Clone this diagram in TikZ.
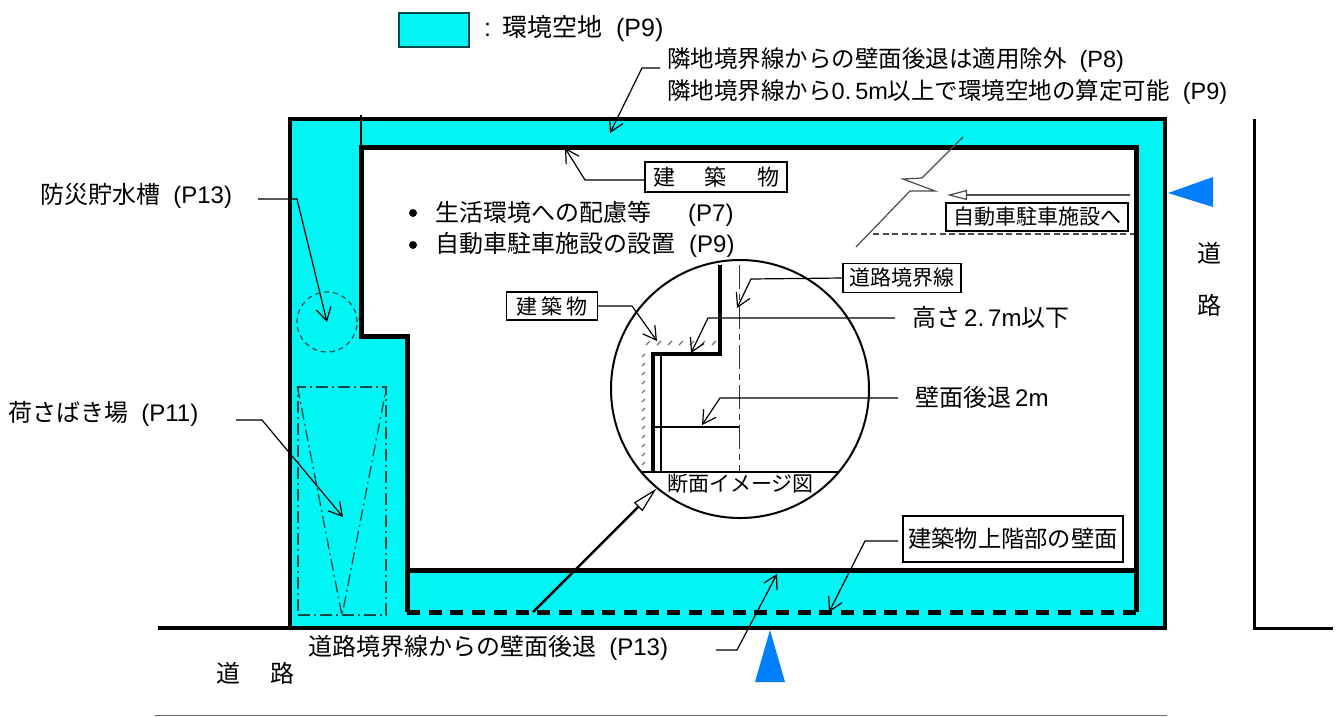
\documentclass[tikz,border=0pt]{standalone}
\usepackage{fontspec}
\setmainfont{Noto Sans CJK JP}
\newfontfamily\latf{Liberation Sans}
\newcommand{\lt}[1]{{\latf #1}}
\newcommand{\pg}[1]{\hspace{.55em}\lt{(#1)}}
\usetikzlibrary{arrows.meta}
\definecolor{akuchi}{HTML}{00F5F5}
\definecolor{doro}{HTML}{0080FF}
\tikzset{
	lbl/.style={anchor=west,inner sep=0pt,font=\fontsize{#1}{#1}\selectfont},
	lbl/.default=24,
	boxlbl/.style={draw=black,fill=white,line width=1.3pt,inner sep=0pt,font=\fontsize{#1}{#1}\selectfont},
	boxlbl/.default=21,
	leader/.style={black,line width=1.2pt,-{Straight Barb[length=13pt,width=15pt,line width=1.2pt]}},
	thickwall/.style={black,line width=5pt},
	dockline/.style={draw=black!70!akuchi,line width=1.3pt,dash pattern=on 12pt off 4pt on 2pt off 4pt},
	parkline/.style={black!70,line width=1.2pt}
}
\begin{document}
\begin{tikzpicture}[x=1pt,y=-1pt]
	\useasboundingbox (0,0) rectangle (1341,716);
	% site and building
	\fill [akuchi] (290,119) rectangle (1165,628);
	\fill [white] (361,147) -- (1136,147) -- (1136,570) -- (407,570) -- (407,336) -- (361,336) -- cycle;
	\draw [black,line width=1.5pt] (361,115) -- (361,147);
	\draw [black,line width=4pt] (1165,628) -- (1165,119) -- (290,119) -- (290,628);
	\draw [black,line width=3.5pt] (158,628) -- (1167,628);
	\draw [thickwall,line join=miter] (407,612) -- (407,336) -- (361,336) -- (361,147) -- (1136,147) -- (1136,612);
	\draw [thickwall] (407,570) -- (1136,570);
	\draw [thickwall,dash pattern=on 13pt off 8.7pt] (407,612) -- (1136,612);
	% road on the right
	\draw [black,line width=3pt] (1254,119) -- (1254,628) -- (1333,628);
	\draw [black!60,line width=1pt] (155,715) -- (1167,715);
	% legend
	\node [draw=black!70!akuchi,fill=akuchi,line width=1.3pt,minimum width=70pt,minimum height=34pt,inner sep=0pt] (legend) at (434,30) {};
	\node [lbl=25] (legendtxt) at (484,29) {\lt{:}\hspace{.45em}環境空地\pg{P9}};
	% labels
	\node [lbl=23.5] (lblSetA) at (667,60) {隣地境界線からの壁面後退は適用除外\pg{P8}};
	\node [lbl=23.5] (lblSetB) at (667,92) {隣地境界線から\lt{0.\kern4pt 5m}以上で環境空地の算定可能\pg{P9}};
	\node [boxlbl=22,minimum width=142pt,minimum height=30pt] (lblBldg) at (716,177) {建\hspace{30pt}築\hspace{30pt}物};
	\node [lbl] (lblStore) at (40,196) {防災貯水槽\pg{P13}};
	\node [lbl] (lblDock) at (8,414) {荷さばき場\pg{P11}};
	\node [lbl] (lblLife) at (435,214) {生活環境への配慮等\hspace{37pt}\lt{(P7)}};
	\node [lbl] (lblPark) at (435,245) {自動車駐車施設の設置\hspace{14pt}\lt{(P9)}};
	\node [circle,fill=black,inner sep=0pt,minimum size=8pt] (bulA) at (413,213) {};
	\node [circle,fill=black,inner sep=0pt,minimum size=8pt] (bulB) at (413,245) {};
	\node [boxlbl,minimum width=182pt,minimum height=28pt] (lblToPark) at (1037,217) {自動車駐車施設へ};
	\node [boxlbl,minimum width=118pt,minimum height=29pt] (lblLine) at (902,278) {道路境界線};
	\node [boxlbl,minimum width=91pt,minimum height=28pt] (lblBldgB) at (552,306) {建\hspace{4pt}築\hspace{4pt}物};
	\node [lbl] (lblHigh) at (912,317) {高さ\,\lt{2.\kern4pt 7m}以下};
	\node [lbl] (lblBack) at (915,397) {壁面後退\,\lt{2m}};
	\node [boxlbl=23.3,minimum width=220pt,minimum height=46pt] (lblUpper) at (1013,539) {建築物上階部の壁面};
	\node [lbl] (lblRoadSet) at (308,648) {道路境界線からの壁面後退\pg{P13}};
	\node [lbl] (roadA) at (1197,253) {道};
	\node [lbl] (roadB) at (1197,305) {路};
	\node [lbl] (roadC) at (216,673) {道};
	\node [lbl] (roadD) at (270,673) {路};
	% storage tank and loading bay
	\node [circle,draw=black!70!akuchi,line width=1.2pt,dash pattern=on 5pt off 4pt,minimum size=60pt,inner sep=0pt] (tank) at (327,322) {};
	\node [dockline,minimum width=88pt,minimum height=228pt,inner sep=0pt] (dock) at (342,501) {};
	\draw [dockline] (dock.north west) -- (dock.south) -- (dock.north east);
	% parking ramp
	\coordinate (rampA) at (963,137);
	\coordinate (rampB) at (922,178);
	\coordinate (rampC) at (903,179);
	\coordinate (rampD) at (935,191);
	\coordinate (rampE) at (910,191);
	\coordinate (rampF) at (856,247);
	\draw [parkline] (rampA) -- (rampB) -- (rampC) -- (rampD) -- (rampE) -- (rampF);
	\coordinate (rampG) at (873,234);
	\coordinate (rampH) at (1134,234);
	\draw [parkline,dash pattern=on 6pt off 3.5pt] (rampG) -- (rampH);
	\coordinate (inA) at (1130,195);
	\coordinate (inB) at (947,195);
	\draw [parkline,-{Triangle[open,length=20pt,width=10pt,line width=1.2pt]}] (inA) -- (inB);
	% detail circle
	\node [circle,draw=black,line width=2pt,minimum size=258pt,inner sep=0pt] (lupe) at (740,389) {};
	\node [lbl=21] (lupeTitle) at (667,484) {断面イメージ図};
	\foreach \x in {646,657,...,716}
		\draw [black!55,line width=1.2pt] (\x,345) -- (\x+4,341);
	\foreach \y in {357,366,...,465}
		\draw [black!55,line width=1.2pt] (642,\y) -- (645,\y-3);
	\draw [black,line width=1.2pt] (642,472) -- (838,472);
	\draw [black,line width=1.2pt] (661,354) -- (661,472);
	\draw [black,line width=1.2pt] (653,427) -- (739,427);
	\draw [black!80,line width=1.2pt,dash pattern=on 24pt off 5pt on 6pt off 5pt] (739.5,265) -- (739.5,472);
	\draw [black,line width=3.5pt,line join=miter] (720,265) -- (720,354) -- (653,354) -- (653,472);
	\coordinate (zoomS) at (533,612);
	\draw [black,line width=2.5pt,-{Triangle[open,fill=white,length=26pt,width=12pt,line width=1.2pt]}] (zoomS) -- (lupe.230);
	% leaders
	\coordinate (topS) at (660,68);
	\coordinate (topE) at (642,68);
	\coordinate (topT) at (610,133);
	\draw [leader] (topS) -- (topE) -- (topT);
	\coordinate (bldgE) at (585,180);
	\coordinate (bldgT) at (565,148);
	\draw [leader] (lblBldg.west |- bldgE) -- (bldgE) -- (bldgT);
	\coordinate (storeS) at (258,199);
	\coordinate (storeE) at (297,199);
	\draw [leader] (storeS) -- (storeE) -- (tank.center);
	\coordinate (dockS) at (236,420);
	\coordinate (dockE) at (262,420);
	\coordinate (dockT) at (343,517);
	\draw [leader] (dockS) -- (dockE) -- (dockT);
	\coordinate (bldgBE) at (632,306);
	\coordinate (bldgBT) at (657,341);
	\draw [leader] (lblBldgB.east) -- (bldgBE) -- (bldgBT);
	\coordinate (lineE) at (751,279);
	\coordinate (lineT) at (737,308);
	\draw [leader] (lblLine.west) -- (lineE) -- (lineT);
	\coordinate (highS) at (895,318);
	\coordinate (highE) at (708,318);
	\coordinate (highT) at (691,353);
	\draw [leader] (highS) -- (highE) -- (highT);
	\coordinate (backS) at (898,398);
	\coordinate (backE) at (720,398);
	\coordinate (backT) at (702,425);
	\draw [leader] (backS) -- (backE) -- (backT);
	\coordinate (upperS) at (898,541);
	\coordinate (upperE) at (865,541);
	\coordinate (upperT) at (829,612);
	\draw [leader] (upperS) -- (upperE) -- (upperT);
	\coordinate (roadS) at (716,650);
	\coordinate (roadE) at (737,650);
	\coordinate (roadT) at (777,574);
	\draw [leader] (roadS) -- (roadE) -- (roadT);
	% road arrows
	\fill [doro] (1168,193) -- (1213,177) -- (1213,207) -- cycle;
	\fill [doro] (770,630) -- (785,682) -- (755,682) -- cycle;
\end{tikzpicture}
\end{document}
